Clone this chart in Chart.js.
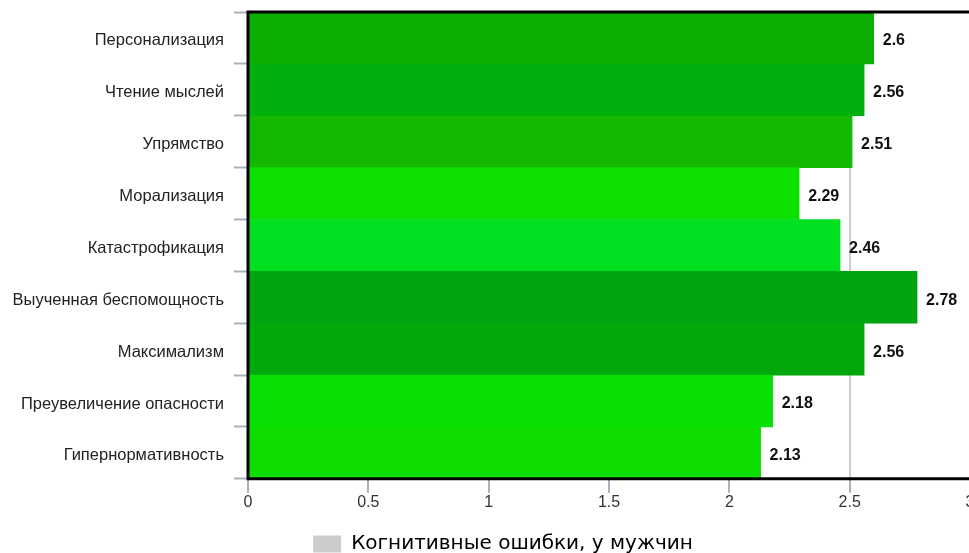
<!DOCTYPE html>
<html>
<head>
<meta charset="utf-8">
<script src="https://cdn.jsdelivr.net/npm/chart.js@4/dist/chart.umd.min.js"></script>
<style>
  html, body { margin: 0; padding: 0; background: #ffffff; overflow: hidden; }
  #wrap { width: 969px; height: 553px; overflow: hidden; position: relative; }
  canvas { display: block; }
</style>
</head>
<body>
<div id="wrap"><canvas id="chart" width="976" height="553"></canvas></div>
<script>
// Categories (top to bottom)
const categories = [
  'Персонализация',
  'Чтение мыслей',
  'Упрямство',
  'Морализация',
  'Катастрофикация',
  'Выученная беспомощность',
  'Максимализм',
  'Преувеличение опасности',
  'Гипернормативность'
];

// Mean scores
const values = [2.6, 2.56, 2.51, 2.29, 2.46, 2.78, 2.56, 2.18, 2.13];

// Bar fill per category
const barColors = [
  '#0caf00', '#00b00c', '#14b800', '#0de000', '#00e020',
  '#00a310', '#00a80c', '#07e000', '#0dde00'
];

const seriesName = 'Когнитивные ошибки, у мужчин';
const xTicks = [0, 0.5, 1, 1.5, 2, 2.5, 3];

// Value labels to the right of each bar
const valueLabels = {
  id: 'valueLabels',
  afterDatasetsDraw(chart) {
    const ctx = chart.ctx;
    const meta = chart.getDatasetMeta(0);
    ctx.save();
    ctx.font = 'bold 16px "Liberation Sans", Arial, sans-serif';
    ctx.fillStyle = '#111111';
    ctx.textAlign = 'left';
    ctx.textBaseline = 'middle';
    meta.data.forEach((bar, i) => {
      const p = bar.getProps(['x', 'y'], true);
      ctx.fillText(String(values[i]), p.x + 9, p.y + 3);
    });
    ctx.restore();
  }
};

// Dark frame along the top, left and bottom of the plot
const plotFrame = {
  id: 'plotFrame',
  afterDatasetsDraw(chart) {
    const a = chart.chartArea;
    const ctx = chart.ctx;
    ctx.save();
    ctx.strokeStyle = '#000000';
    ctx.lineWidth = 3;
    ctx.beginPath();
    ctx.moveTo(a.right + 5, a.top);
    ctx.lineTo(a.left, a.top);
    ctx.lineTo(a.left, a.bottom);
    ctx.lineTo(a.right + 5, a.bottom);
    ctx.stroke();
    ctx.restore();
  }
};

// Legend offset (horizontal and vertical)
const legendShift = {
  id: 'legendShift',
  afterLayout(chart) {
    const lg = chart.legend;
    if (!lg) return;
    const dx = 18, dy = 11;
    lg.left += dx; lg.right += dx;
    lg.top += dy; lg.bottom += dy;
  }
};

new Chart(document.getElementById('chart'), {
  type: 'bar',
  data: {
    labels: categories,
    datasets: [{
      label: seriesName,
      data: values,
      backgroundColor: barColors,
      borderWidth: 0,
      categoryPercentage: 1.0,
      barPercentage: 1.0
    }]
  },
  options: {
    indexAxis: 'y',
    responsive: false,
    animation: false,
    devicePixelRatio: 1,
    layout: { padding: { top: 12, right: 6, bottom: 0, left: 0 } },
    scales: {
      x: {
        min: 0,
        max: 3,
        afterBuildTicks(scale) { scale.ticks = xTicks.map(v => ({ value: v })); },
        afterFit(scale) { scale.paddingLeft = 0; scale.paddingRight = 0; scale.height += 1; },
        ticks: {
          color: '#333333',
          font: { family: '"Liberation Sans", Arial, sans-serif', size: 16 },
          padding: 0,
          maxRotation: 0,
          callback: v => String(v)
        },
        grid: {
          color: '#c9ccd0',
          lineWidth: 2,
          tickLength: 14,
          tickColor: '#a8b2bd',
          tickWidth: 2
        },
        border: { display: false }
      },
      y: {
        afterFit(scale) { scale.width = 248; scale.paddingTop = 0; scale.paddingBottom = 0; },
        ticks: {
          color: '#222222',
          font: { family: '"Liberation Sans", Arial, sans-serif', size: 16.5 },
          padding: 10,
          labelOffset: 3
        },
        grid: {
          drawOnChartArea: false,
          offset: true,
          tickLength: 14,
          tickColor: '#a8b2bd',
          tickWidth: 2
        },
        border: { display: true, color: '#b8c0c8', width: 2 }
      }
    },
    plugins: {
      tooltip: { enabled: false },
      legend: {
        position: 'bottom',
        labels: {
          color: '#444444',
          font: { family: '"DejaVu Sans", sans-serif', size: 20 },
          boxWidth: 28,
          boxHeight: 17,
          padding: 10,
          generateLabels: () => [{
            text: seriesName,
            fillStyle: '#cccccc',
            strokeStyle: '#cccccc',
            lineWidth: 0,
            hidden: false,
            datasetIndex: 0
          }]
        },
        onClick: () => {}
      }
    }
  },
  plugins: [valueLabels, plotFrame, legendShift]
});
</script>
</body>
</html>
